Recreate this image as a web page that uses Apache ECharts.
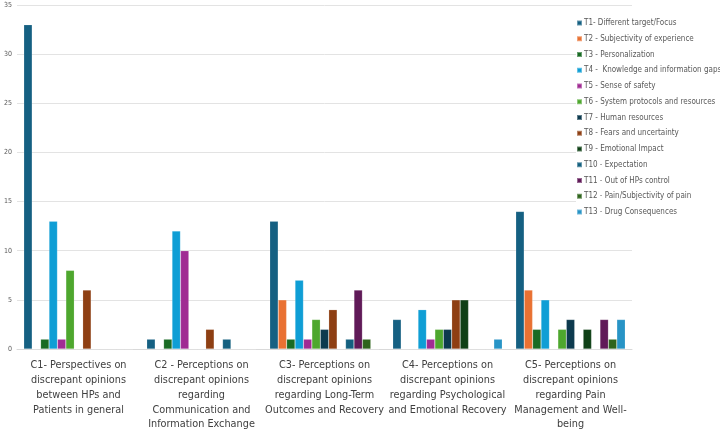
<!DOCTYPE html>
<html><head><meta charset="utf-8">
<script src="https://cdn.jsdelivr.net/npm/echarts@6/dist/echarts.min.js"></script>
<style>html,body{margin:0;padding:0;background:#fff}#c{width:720px;height:433px}</style>
</head><body><div id="c"></div>
<script>
const categories = [
  "C1- Perspectives on\ndiscrepant opinions\nbetween HPs and\nPatients in general",
  "C2 - Perceptions on\ndiscrepant opinions\nregarding\nCommunication and\nInformation Exchange",
  "C3- Perceptions on\ndiscrepant opinions\nregarding Long-Term\nOutcomes and Recovery",
  "C4- Perceptions on\ndiscrepant opinions\nregarding Psychological\nand Emotional Recovery",
  "C5- Perceptions on\ndiscrepant opinions\nregarding Pain\nManagement and Well-\nbeing"
];
const seriesNames = [
  "T1- Different target/Focus",
  "T2 - Subjectivity of experience",
  "T3 - Personalization",
  "T4 -  Knowledge and information gaps",
  "T5 - Sense of safety",
  "T6 - System protocols and resources",
  "T7 - Human resources",
  "T8 - Fears and uncertainty",
  "T9 - Emotional Impact",
  "T10 - Expectation",
  "T11 - Out of HPs control",
  "T12 - Pain/Subjectivity of pain",
  "T13 - Drug Consequences"
];
const T1  = [33, 1, 13, 3, 14];
const T2  = [0, 0, 5, 0, 6];
const T3  = [1, 1, 1, 0, 2];
const T4  = [13, 12, 7, 4, 5];
const T5  = [1, 10, 1, 1, 0];
const T6  = [8, 0, 3, 2, 2];
const T7  = [0, 0, 2, 2, 3];
const T8  = [6, 2, 4, 5, 0];
const T9  = [0, 0, 0, 5, 2];
const T10 = [0, 1, 1, 0, 0];
const T11 = [0, 0, 6, 0, 3];
const T12 = [0, 0, 1, 0, 1];
const T13 = [0, 0, 0, 1, 3];
const seriesValues = [T1,T2,T3,T4,T5,T6,T7,T8,T9,T10,T11,T12,T13];
const colors = ["#156082","#E97132","#196B24","#0F9ED5","#A02B93","#4EA72E","#0D3A4E","#8E3F13","#0F4016","#14607F","#601A58","#2F641C","#2894C6"];
const yTicks = {min:0, max:35, interval:5};

const FONT = "'DejaVu Sans Condensed','Liberation Sans Narrow',sans-serif";
const chart = echarts.init(document.getElementById('c'), null, {renderer:'canvas'});
chart.setOption({
  animation:false,
  backgroundColor:'#fff',
  color: colors,
  grid:{left:17, right:88, top:5, bottom:84, containLabel:false},
  legend:{
    orient:'vertical', left:576, top:18, padding:0,
    backgroundColor:'#fff',
    itemWidth:5, itemHeight:5, itemGap:5.75, icon:'rect',
    textStyle:{fontFamily:FONT, fontSize:8, color:'#595959', lineHeight:10, padding:[0,0,0,-3]},
    data: seriesNames
  },
  xAxis:{
    type:'category', data:categories,
    axisLine:{lineStyle:{color:'#d9d9d9'}},
    axisTick:{show:false},
    axisLabel:{interval:0, fontFamily:FONT, fontSize:10.8, color:'#404040', lineHeight:14.8, margin:9}
  },
  yAxis:{
    type:'value', min:yTicks.min, max:yTicks.max, interval:yTicks.interval,
    axisLabel:{fontFamily:FONT, fontSize:7, color:'#595959', margin:5},
    splitLine:{lineStyle:{color:'#e3e3e3'}},
    axisLine:{show:false}, axisTick:{show:false}
  },
  series: seriesNames.map((n,i)=>({
    name:n, type:'bar', data:seriesValues[i],
    barGap:'0%', barCategoryGap:'11%',
    itemStyle:{borderColor:'rgba(255,255,255,0.35)', borderWidth:0.5}
  }))
});
</script></body></html>
